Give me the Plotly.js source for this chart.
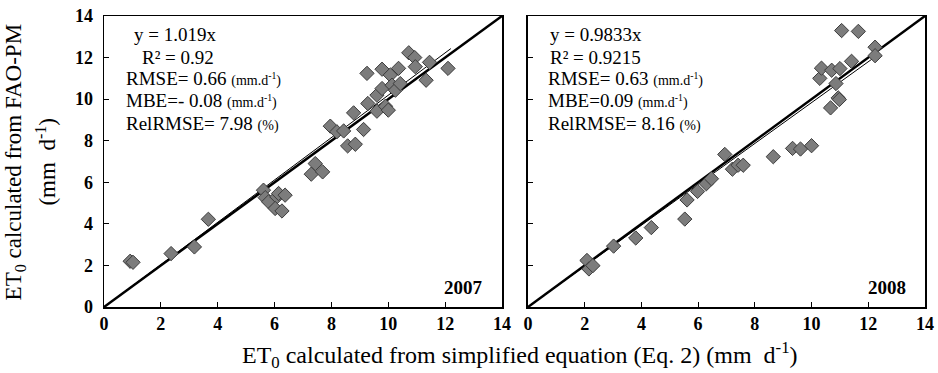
<!DOCTYPE html>
<html>
<head>
<meta charset="utf-8">
<script src="https://cdn.plot.ly/plotly-3.0.1.min.js"></script>
<style>html,body{margin:0;padding:0;background:#fff;}#chart{width:938px;height:373px;}</style>
</head>
<body>
<div id="chart"></div>
<script>
// 2007 data: x = ET0 simplified equation, y = ET0 FAO-PM
const x2007 = [0.92, 1.02, 2.36, 3.18, 3.67, 5.61, 5.67, 5.79, 6.08, 6.14, 6.37, 6.02, 6.26,
  7.43, 7.29, 7.69, 7.96, 8.19, 8.43, 8.57, 8.84, 8.78, 9.13,
  9.25, 9.28, 9.60, 9.60, 9.78, 9.78, 9.90, 10.00, 10.07, 10.13, 10.36, 10.25, 10.42,
  10.72, 10.93, 10.95, 11.45, 11.33, 12.10];
const y2007 = [2.20, 2.15, 2.57, 2.89, 4.22, 5.62, 5.26, 5.06, 5.30, 5.46, 5.38, 4.74, 4.62,
  6.90, 6.39, 6.50, 8.70, 8.43, 8.47, 7.75, 7.83, 9.34, 8.54,
  11.24, 9.79, 10.19, 9.42, 10.51, 11.44, 9.66, 9.47, 11.16, 10.67, 11.48, 10.43, 10.75,
  12.23, 12.00, 11.56, 11.77, 10.91, 11.48];
// 2008 data
const x2008 = [2.08, 2.15, 2.29, 3.02, 3.80, 4.35, 5.53, 5.61, 5.98, 6.29, 6.47, 6.94, 7.21, 7.41, 7.59,
  8.65, 9.33, 9.61, 10.00, 10.29, 10.35, 10.67, 10.71, 10.94, 10.98, 11.00, 10.86,
  11.06, 11.41, 11.65, 12.24, 12.24];
const y2008 = [2.24, 1.83, 1.99, 2.93, 3.32, 3.82, 4.23, 5.15, 5.56, 5.93, 6.17, 7.34, 6.63, 6.82, 6.82,
  7.23, 7.63, 7.60, 7.76, 11.00, 11.49, 9.58, 11.39, 10.06, 9.98, 11.47, 10.75,
  13.30, 11.82, 13.26, 12.50, 12.09];
// 1:1 line and regression fits
const oneToOneX = [0, 14];
const slope2007 = 1.019;
const slope2008 = 0.9833;
const fitX2007 = [0, 12.2];
const fitX2008 = [0, 12.3];
const tickVals = [0, 2, 4, 6, 8, 10, 12, 14];
const stats2007 = ["y = 1.019x", "R² = 0.92", "RMSE= 0.66", "MBE=- 0.08", "RelRMSE= 7.98"];
const stats2008 = ["y = 0.9833x", "R² = 0.9215", "RMSE= 0.63", "MBE=0.09", "RelRMSE= 8.16"];
const units = ["", "", "(mm.d<sup>-1</sup>)", "(mm.d<sup>-1</sup>)", "(%)"];

const FONT = "Liberation Serif";
const marker = {symbol: 'diamond', size: 11, color: '#7c7c7c', line: {color: '#3c3c3c', width: 1}};

const traces = [
  {x: oneToOneX, y: oneToOneX, mode: 'lines', line: {color: '#000', width: 2.5}, xaxis: 'x', yaxis: 'y', hoverinfo: 'skip'},
  {x: fitX2007, y: fitX2007.map(v => v * slope2007), mode: 'lines', line: {color: '#000', width: 1}, xaxis: 'x', yaxis: 'y'},
  {x: x2007, y: y2007, mode: 'markers', marker: marker, xaxis: 'x', yaxis: 'y'},
  {x: oneToOneX, y: oneToOneX, mode: 'lines', line: {color: '#000', width: 2.5}, xaxis: 'x2', yaxis: 'y2', hoverinfo: 'skip'},
  {x: fitX2008, y: fitX2008.map(v => v * slope2008), mode: 'lines', line: {color: '#000', width: 1}, xaxis: 'x2', yaxis: 'y2'},
  {x: x2008, y: y2008, mode: 'markers', marker: marker, xaxis: 'x2', yaxis: 'y2'}
];

function axisCommon(extra) {
  return Object.assign({
    range: [0, 14], tickvals: tickVals, ticks: 'inside', ticklen: 5, tickcolor: '#000', tickwidth: 1,
    showgrid: false, zeroline: false, showline: true, linecolor: '#000', linewidth: 1.5, mirror: true,
    tickfont: {family: FONT, size: 18, color: '#000', weight: 'bold'}
  }, extra);
}

const statYs = [13.1, 12.0, 11.0, 9.95, 8.85];
const annotations = [];
stats2007.forEach((s, i) => {
  const xs = [1.0, 1.25, 0.72, 0.72, 0.72];
  annotations.push({xref: 'x', yref: 'y', x: xs[i], y: statYs[i], xanchor: 'left', yanchor: 'middle', showarrow: false,
    text: s + (units[i] ? ' <span style="font-size:14px">' + units[i] + '</span>' : ''),
    font: {family: FONT, size: 19, color: '#000'}});
});
stats2008.forEach((s, i) => {
  const xs = [0.72, 0.72, 0.62, 0.62, 0.62];
  annotations.push({xref: 'x2', yref: 'y2', x: xs[i], y: statYs[i], xanchor: 'left', yanchor: 'middle', showarrow: false,
    text: s + (units[i] ? ' <span style="font-size:14px">' + units[i] + '</span>' : ''),
    font: {family: FONT, size: 19, color: '#000'}});
});
annotations.push({xref: 'x', yref: 'y', x: 13.4, y: 0.95, xanchor: 'right', yanchor: 'middle', showarrow: false,
  text: '<b>2007</b>', font: {family: FONT, size: 19, color: '#000'}});
annotations.push({xref: 'x2', yref: 'y2', x: 13.4, y: 0.95, xanchor: 'right', yanchor: 'middle', showarrow: false,
  text: '<b>2008</b>', font: {family: FONT, size: 19, color: '#000'}});
annotations.push({xref: 'paper', yref: 'paper', x: 0.507, y: -0.165, xanchor: 'center', yanchor: 'middle', showarrow: false,
  text: 'ET<sub>0</sub> calculated from simplified equation (Eq. 2) (mm  d<sup>-1</sup>)',
  font: {family: FONT, size: 24, color: '#000'}});
annotations.push({xref: 'paper', yref: 'paper', x: -0.1085, y: 0.5, xanchor: 'center', yanchor: 'middle', showarrow: false,
  textangle: -90, text: 'ET<sub>0</sub> calculated from FAO-PM',
  font: {family: FONT, size: 23, color: '#000'}});
annotations.push({xref: 'paper', yref: 'paper', x: -0.0706, y: 0.5, xanchor: 'center', yanchor: 'middle', showarrow: false,
  textangle: -90, text: '(mm  d<sup>-1</sup>)',
  font: {family: FONT, size: 23, color: '#000'}});

const layout = {
  width: 938, height: 373,
  margin: {l: 104, r: 13, t: 16, b: 66},
  paper_bgcolor: '#fff', plot_bgcolor: '#fff',
  showlegend: false,
  font: {family: FONT, color: '#000'},
  xaxis: axisCommon({domain: [0, 0.4848], anchor: 'y'}),
  yaxis: axisCommon({domain: [0, 1], anchor: 'x', ticklabelstandoff: 6}),
  xaxis2: axisCommon({domain: [0.5164, 1], anchor: 'y2'}),
  yaxis2: axisCommon({domain: [0, 1], anchor: 'x2', showticklabels: false}),
  annotations: annotations
};

Plotly.newPlot('chart', traces, layout, {displayModeBar: false, staticPlot: true});
</script>
</body>
</html>
